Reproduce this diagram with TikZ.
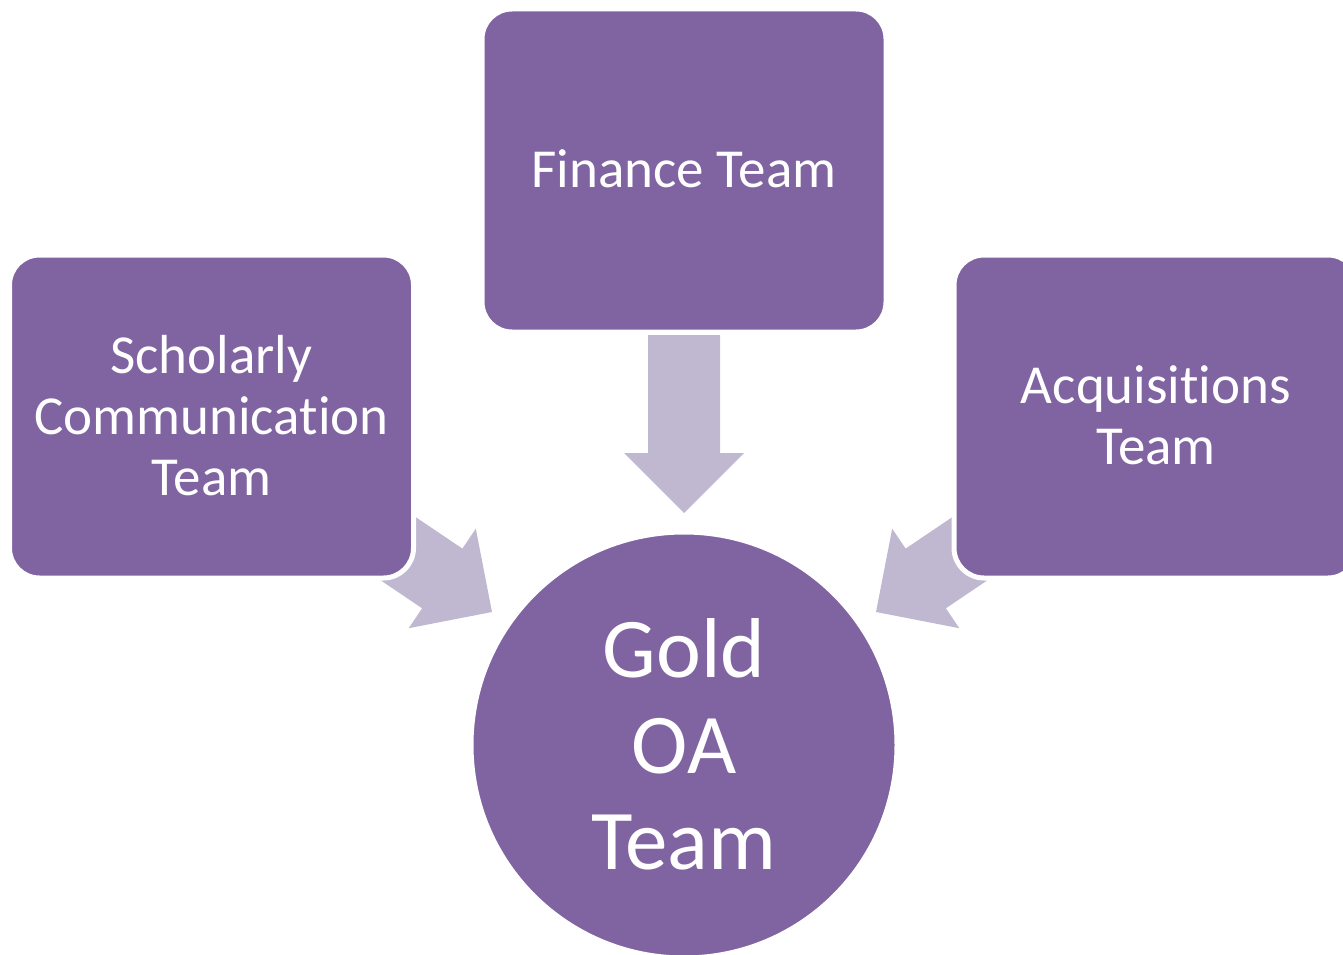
\documentclass[tikz,border=0pt]{standalone}
\usepackage{fontspec}
\setmainfont{Carlito}[RawFeature={-liga;-clig;-dlig}]
\definecolor{boxpurple}{RGB}{128,100,162}
\definecolor{arrowlilac}{RGB}{191,184,208}
\tikzset{
  teambox/.style={rectangle, rounded corners=30pt, fill=boxpurple, draw=white, line width=5pt,
    minimum width=404pt, minimum height=323pt, inner sep=0pt, text=white, align=center,
    text depth=3pt, font=\fontsize{55}{61}\selectfont},
  goldcircle/.style={circle, fill=boxpurple, draw=white, line width=3pt, minimum size=424pt,
    inner sep=0pt, text=white, align=center, text depth=2pt, font=\fontsize{85}{96}\selectfont},
  blockarrow/.style={fill=arrowlilac, draw=none}
}
\newcommand{\blockarrowshape}{(0,0) -- (-60,60) -- (-60,36) -- (-178,36) -- (-178,-36) -- (-60,-36) -- (-60,-60) -- cycle}
\begin{document}
\begin{tikzpicture}[x=1pt,y=1pt]
\useasboundingbox (0,0) rectangle (1343,-955);
% arrows (drawn below the boxes)
\coordinate (tipdown) at (684,-513);
\coordinate (tipleft) at (492,-612);
\coordinate (tipright) at (876,-612);
\begin{scope}[shift={(tipdown)}, rotate=-90]
  \fill[blockarrow] \blockarrowshape;
\end{scope}
\begin{scope}[shift={(tipleft)}, rotate=-34]
  \fill[blockarrow] \blockarrowshape;
\end{scope}
\begin{scope}[shift={(tipright)}, rotate=-146]
  \fill[blockarrow] \blockarrowshape;
\end{scope}
% boxes
\node[teambox] (fin) at (684,-170.5) {Finance Team};
\node[teambox] (sch) at (211.5,-416.5) {Scholarly\\Communication\\Team};
\node[teambox] (acq) at (1156,-416.5) {Acquisitions\\Team};
\node[goldcircle] (gold) at (684,-745) {Gold\\OA\\Team};
\end{tikzpicture}
\end{document}
